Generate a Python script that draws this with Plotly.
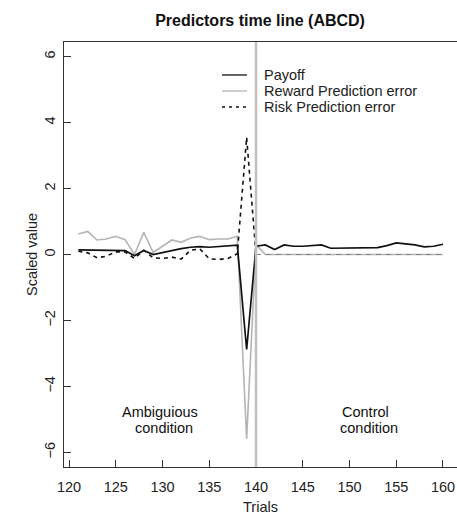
import plotly.graph_objects as go

trials = list(range(121, 161))
payoff = [0.14, 0.14, 0.12, 0.13, 0.12, 0.12, -0.04, 0.12, 0.0, 0.06,
          0.14, 0.18, 0.22, 0.24, 0.22, 0.24, 0.24, 0.28, -2.88, 0.25,
          0.29, 0.15, 0.29, 0.25, 0.25, 0.27, 0.29, 0.19, 0.19, 0.19,
          0.19, 0.2, 0.21, 0.27, 0.35, 0.32, 0.29, 0.23, 0.25, 0.31]
reward_pe = [0.62, 0.7, 0.44, 0.47, 0.55, 0.45, 0.0, 0.67, 0.06, 0.24,
             0.44, 0.37, 0.5, 0.55, 0.45, 0.47, 0.47, 0.55, -5.58, 0.3,
             0.0, 0.0, 0.0, 0.0, 0.0, 0.0, 0.0, 0.0, 0.0, 0.0,
             0.0, 0.0, 0.0, 0.0, 0.0, 0.0, 0.0, 0.0, 0.0, 0.0]
risk_pe = [0.1, 0.05, -0.1, -0.05, 0.08, 0.08, -0.12, 0.13, -0.1, -0.12,
           -0.08, -0.14, 0.13, 0.17, -0.13, -0.15, -0.12, 0.02, 3.55, 0.0,
           0.0, 0.0, 0.0, 0.0, 0.0, 0.0, 0.0, 0.0, 0.0, 0.0,
           0.0, 0.0, 0.0, 0.0, 0.0, 0.0, 0.0, 0.0, 0.0, 0.0]
switch_trial = 140
x_ticks = [120, 125, 130, 135, 140, 145, 150, 155, 160]
y_ticks = [-6, -4, -2, 0, 2, 4, 6]
legend_names = ["Payoff", "Reward Prediction error", "Risk Prediction error"]

FONT = "Liberation Sans, Arial, sans-serif"
FS = 14.5
k = trials.index(switch_trial)

PAYOFF_STYLE = dict(color="#111111", width=1.7)
REWARD_STYLE = dict(color="#b4b4b4", width=1.6)
RISK_STYLE = dict(color="#111111", width=1.6, dash="4px,4px")

fig = go.Figure()
fig.add_trace(go.Scatter(x=trials, y=reward_pe, mode="lines", name=legend_names[1], line=REWARD_STYLE))
fig.add_trace(go.Scatter(x=trials[:k + 1], y=risk_pe[:k + 1], mode="lines", name=legend_names[2], line=RISK_STYLE))
fig.add_trace(go.Scatter(x=trials[k:], y=risk_pe[k:], mode="lines", name=legend_names[2] + " (control)",
                         line=dict(color="#808080", width=1.2, dash="5px,5px")))
fig.add_trace(go.Scatter(x=trials, y=payoff, mode="lines", name=legend_names[0], line=PAYOFF_STYLE))

fig.add_shape(type="line", xref="x", yref="paper", x0=switch_trial, x1=switch_trial, y0=0, y1=1,
              line=dict(color="#c0c0c0", width=2.5))

# legend drawn as a key box (paper coordinates)
key_rows = [0.9224, 0.8847, 0.8471]
for name, style, ky in zip(legend_names, [PAYOFF_STYLE, REWARD_STYLE, RISK_STYLE], key_rows):
    fig.add_shape(type="line", xref="paper", yref="paper", x0=0.402, x1=0.4656, y0=ky, y1=ky,
                  line=dict(color=style["color"], width=1.3, dash="3px,4px" if "dash" in style else "solid"))
    fig.add_annotation(xref="paper", yref="paper", x=0.5038, y=ky, xanchor="left", yanchor="middle",
                       text=name, showarrow=False, font=dict(family=FONT, size=FS, color="#222"))

for tx, ty, txt in [(129.73, -4.76, "Ambiguious"), (130.16, -5.27, "condition"),
                    (151.74, -4.76, "Control"), (152.09, -5.27, "condition")]:
    fig.add_annotation(x=tx, y=ty, text=txt, showarrow=False,
                       font=dict(family=FONT, size=FS, color="#111"))

fig.update_layout(
    width=457, height=516,
    margin=dict(l=64, r=0, t=42, b=49),
    paper_bgcolor="white", plot_bgcolor="white",
    title=dict(text="<b>Predictors time line (ABCD)</b>", x=0.569, xref="container", xanchor="center",
               y=0.9612, yref="container", yanchor="middle", font=dict(family=FONT, size=16, color="#111")),
    font=dict(family=FONT, size=FS, color="#222"),
    showlegend=False,
)
fig.update_xaxes(range=[119.465, 161.5], tickvals=x_ticks, ticks="inside", ticklen=7,
                 tickcolor="#333", showline=True, linecolor="#333", linewidth=1.2, mirror=True,
                 showgrid=False, zeroline=False, ticklabelstandoff=6, automargin=False,
                 ticklabeloverflow="allow",
                 title=dict(text="Trials", standoff=8, font=dict(family=FONT, size=FS, color="#222")))
fig.update_yaxes(range=[-6.44, 6.44], tickvals=y_ticks, ticktext=[str(v).replace("-", "\u2212") for v in y_ticks],
                 tickangle=-90, ticks="inside", ticklen=7,
                 tickcolor="#333", showline=True, linecolor="#333", linewidth=1.2, mirror=True,
                 showgrid=False, zeroline=False, ticklabelstandoff=2, automargin=False,
                 title=dict(text="Scaled value", standoff=1, font=dict(family=FONT, size=FS, color="#222")))

fig.write_html("out.html", config={"displayModeBar": False},
               post_script="document.body.style.margin='0';document.body.style.overflow='hidden';")
